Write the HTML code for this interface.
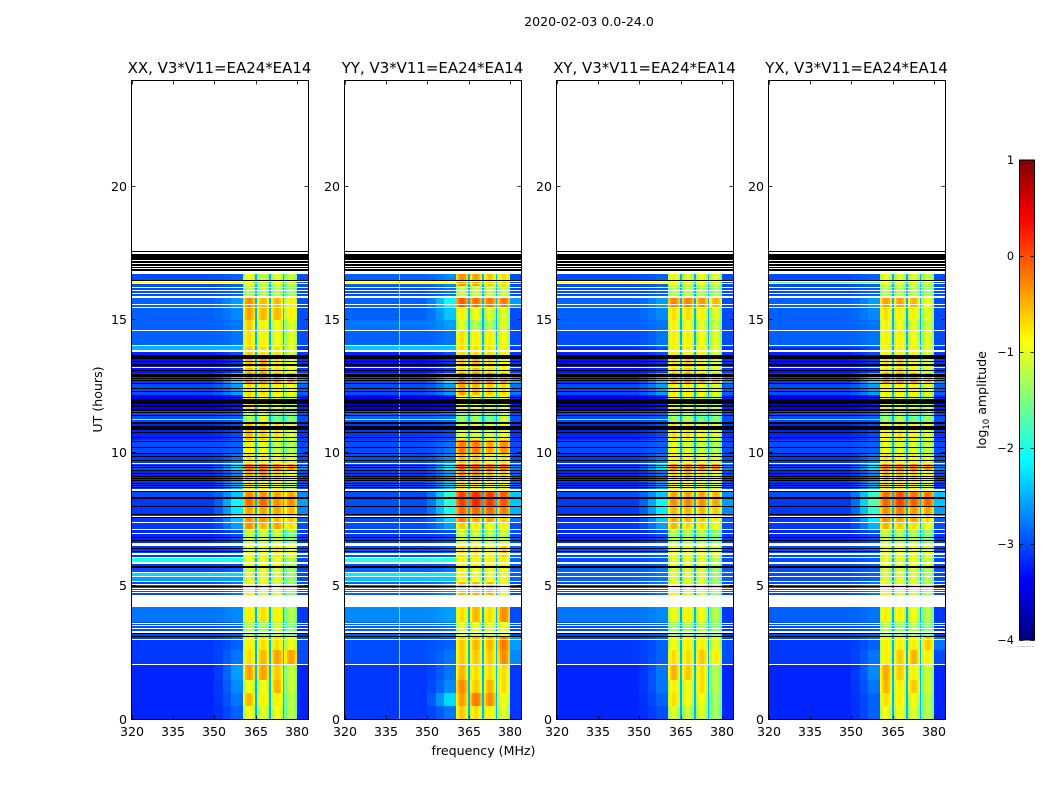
<!DOCTYPE html>
<html>
<head>
<meta charset="utf-8">
<title>Amplitude waterfall chart</title>
<style>
html,body{margin:0;padding:0;background:#fff;}
#figure{display:block;width:1050px;height:800px;}
text{font-family:"DejaVu Sans","Liberation Sans",sans-serif;fill:#000;}
</style>
</head>
<body>
<svg id="figure" xmlns="http://www.w3.org/2000/svg" width="1050" height="800" viewBox="0 0 1050 800">
  <rect x="0" y="0" width="1050" height="800" fill="#fff"/>
  <text x="589" y="26" font-size="12.6" text-anchor="middle">2020-02-03 0.0-24.0</text>
  <text x="102" y="399.5" font-size="12.6" text-anchor="middle" transform="rotate(-90 102 399.5)">UT (hours)</text>
  <text x="483.5" y="755" font-size="12.6" text-anchor="middle">frequency (MHz)</text>
  <g id="panels"></g>
  <g id="colorbar"></g>
  <text x="986" y="400" font-size="12.6" text-anchor="middle" transform="rotate(-90 986 400)">log<tspan font-size="8.5" dy="3">10</tspan><tspan dy="-3"> amplitude</tspan></text>
</svg>
<script>
// ---------- chart data ----------
const panelTitles = ["XX, V3*V11=EA24*EA14","YY, V3*V11=EA24*EA14","XY, V3*V11=EA24*EA14","YX, V3*V11=EA24*EA14"];
const xTickValues = [320,335,350,365,380];
const yTickValues = [0,5,10,15,20];
const colorbarTickValues = [-4,-3,-2,-1,0,1];
const colorbarTickLabels = ["\u22124","\u22123","\u22122","\u22121","0","1"];

// Time bands, hours (edges of the rows below)
const timeEdges = [0,0.5,1,1.5,2.05,2.6,3.1,3.65,4.22,4.67,5.2,5.7,6.05,6.5,7.1,7.4,7.65,8,8.35,8.65,9,9.35,9.6,10,10.5,11.1,11.6,12.2,12.6,13,13.6,14,14.6,15,15.5,15.9,16.3,16.73];

// log10 amplitude per time band: [320-350, 350-360, sub-band 1, 2, 3, 4, 380-384]
const ampXX = [
[-3.2,-2.9,-.9,-1,-.9,-1.2,-3.2],[-3.2,-2.8,-.5,-.8,-.8,-1.2,-3.2],[-3.2,-2.7,-.9,-.9,-.5,-1.1,-3.2],[-3.2,-2.6,-.4,-.4,-.6,-1.1,-3.2],
[-3.1,-2.8,-.7,-.5,-.4,-.4,-3],[-3.1,-2.9,-.8,-.7,-.7,-.9,-3],[-3,-2.9,-1.2,-1.3,-1.1,-1.4,-3.1],[-2.8,-2.7,-.8,-.7,-.8,-1.2,-3.1],
[-2.8,-2.7,-.8,-.7,-.8,-1.2,-3.1],[-3,-2.8,-.8,-1,-1,-1.4,-3],[-3,-2.9,-1,-.9,-1,-1.3,-3],[-3.1,-3,-.9,-.9,-.9,-1.2,-3],
[-3.1,-3,-.9,-.9,-.7,-.9,-3],[-3.2,-3,-1.1,-1.1,-1.1,-1.4,-3.1],[-3.1,-2.6,-.3,-.5,-.4,-.7,-3],[-3.1,-2.4,-.3,-.3,-.5,-.6,-2.9],
[-3.1,-2.2,-.4,-.4,-.4,-.5,-2.7],[-3.1,-2.1,-.15,-.1,-.3,-.3,-2.6],[-3,-2.4,-.3,-.3,-.4,-.4,-2.7],[-3.1,-2.5,-.7,-.8,-.8,-1.1,-3],
[-3.2,-2.7,-.4,-.3,-.6,-.9,-3],[-3,-2.3,-.1,-.1,-.2,-.3,-2.7],[-3.1,-2.8,-.7,-.8,-.9,-1,-3],[-3,-2.9,-.8,-.9,-1.1,-1.2,-3],
[-3.2,-3,-.5,-.6,-.7,-1,-3.1],[-3,-2.9,-1.2,-1,-1.5,-1.4,-3],[-3.4,-3.2,-.7,-.8,-.9,-1.1,-3.2],[-3,-2.6,-.7,-.7,-.8,-.9,-2.9],
[-3.1,-2.3,-.2,-.2,-.3,-.4,-2.6],[-3.3,-3.1,-.5,-.4,-.7,-.9,-3.1],[-3.2,-3,-.6,-.7,-.7,-1,-3.1],[-2.9,-2.8,-.7,-.8,-.9,-1,-3],
[-2.9,-2.8,-.6,-.8,-.9,-1,-3],[-2.9,-2.7,-.4,-.5,-.5,-.8,-3],[-2.9,-2.6,-.3,-.5,-.5,-.8,-3],[-3,-2.9,-1.2,-1.2,-1.2,-1.3,-3],
[-3,-2.9,-.9,-1.1,-1,-1.1,-3]];
const ampYY = [
[-3.1,-2.8,-.6,-.7,-.8,-1,-3.1],[-3.1,-2.3,-.4,-.2,-.3,-.9,-3.1],[-3.1,-2.7,-.3,-.6,-.5,-.7,-3.1],[-3.1,-2.8,-.5,-.7,-.7,-.7,-3.1],
[-3,-2.8,-.6,-.6,-.6,-.3,-2.7],[-3,-2.9,-.6,-.5,-.5,-.2,-2.6],[-2.9,-2.8,-1,-1,-1,-.9,-3],[-2.7,-2.6,-.7,-.5,-.7,-.3,-3],
[-2.7,-2.6,-.7,-.5,-.7,-.3,-3],[-2.9,-2.7,-.5,-.5,-.5,-.9,-3],[-2.9,-2.8,-.8,-.9,-.9,-.9,-2.9],[-3,-2.9,-.8,-.8,-.8,-.8,-2.9],
[-3,-2.9,-.7,-.7,-.8,-.6,-2.9],[-3.1,-3,-1.1,-1.1,-1.2,-1.1,-3],[-3,-2.6,-.6,-.8,-.9,-.8,-3],[-3,-2.3,-.2,-.4,-.4,-.6,-2.8],
[-3,-2,-.1,-.1,-.1,-.2,-2.5],[-3,-1.9,.1,.25,.15,0,-2.4],[-3,-1.9,.05,.2,.1,-.05,-2.4],[-3,-2.4,-.7,-.7,-.8,-.8,-2.9],
[-3.1,-2.6,-.3,-.3,-.5,-.6,-2.9],[-3,-2.2,-.05,0,-.1,-.1,-2.7],[-3,-2.7,-.5,-.6,-.8,-.7,-3],[-3,-2.8,-.2,-.2,-.4,-.3,-3],
[-3.1,-3,-1,-1,-1,-.9,-3.1],[-2.9,-2.8,-1.3,-1.3,-1.5,-1.1,-3],[-3.4,-3.3,-.8,-.9,-1,-.9,-3.2],[-3,-2.6,-.4,-.5,-.6,-.7,-2.8],
[-3,-2.2,-.1,-.2,-.2,-.3,-2.5],[-3.3,-3.1,-.6,-.5,-.7,-.8,-3.1],[-3.2,-3,-.7,-.7,-.7,-.8,-3.1],[-2.9,-2.8,-.7,-.8,-.8,-.9,-3],
[-2.8,-2.6,-1,-1.2,-1.2,-1,-3],[-2.9,-2.4,-.8,-.9,-1,-1,-3],[-2.9,-2.1,-.05,-.15,-.2,-.2,-2.6],[-3,-2.8,-1.1,-1.1,-1.1,-1.1,-3],
[-2.9,-2.7,-.3,-.4,-.6,-.7,-3]];
const ampXY = [
[-3.2,-3,-1,-1.1,-1,-1.3,-3.2],[-3.2,-2.9,-.7,-.9,-.9,-1.3,-3.2],[-3.2,-2.8,-.8,-.9,-.7,-1.2,-3.2],[-3.2,-2.8,-.5,-.6,-.7,-1.2,-3.2],
[-3.1,-2.9,-.7,-.7,-.6,-.8,-3],[-3.1,-2.9,-.9,-.8,-.8,-1,-3],[-3,-2.9,-1.3,-1.3,-1.2,-1.4,-3.1],[-2.8,-2.7,-.9,-.8,-.9,-1.2,-3.1],
[-2.8,-2.7,-.9,-.8,-.9,-1.2,-3.1],[-3,-2.8,-.8,-1,-1,-1.3,-3],[-2.9,-2.8,-1,-1,-1,-1.3,-2.9],[-3,-2.9,-1,-1,-1,-1.2,-3],
[-3,-2.9,-.9,-.9,-.9,-1,-3],[-3.2,-3,-1.2,-1.2,-1.2,-1.4,-3.1],[-3.1,-2.6,-.5,-.7,-.7,-.9,-3],[-3.1,-2.4,-.4,-.5,-.6,-.8,-2.9],
[-3.1,-2.2,-.5,-.5,-.5,-.6,-2.7],[-3.1,-2.1,-.3,-.25,-.3,-.4,-2.6],[-3,-2.4,-.4,-.4,-.4,-.5,-2.7],[-3.1,-2.6,-.8,-.8,-.9,-1,-3],
[-3.2,-2.8,-.6,-.5,-.7,-.9,-3],[-3,-2.3,-.25,-.25,-.25,-.3,-2.7],[-3.1,-2.8,-.8,-.8,-.9,-1,-3],[-3,-2.9,-.9,-1,-1.1,-1.2,-3],
[-3.2,-3,-.7,-.7,-.8,-1,-3.1],[-3,-2.9,-1.3,-1.2,-1.5,-1.4,-3],[-3.4,-3.2,-.8,-.9,-1,-1.1,-3.2],[-3,-2.6,-.8,-.8,-.9,-1,-2.9],
[-3.1,-2.4,-.3,-.3,-.35,-.5,-2.6],[-3.3,-3.1,-.7,-.6,-.8,-1,-3.1],[-3.2,-3,-.8,-.8,-.8,-1,-3.1],[-3,-2.8,-.8,-.8,-.9,-1,-3],
[-2.9,-2.8,-.8,-.9,-1,-1.1,-3],[-2.9,-2.7,-.7,-.7,-.8,-1,-3],[-2.9,-2.6,-.25,-.25,-.35,-.5,-3],[-3,-2.9,-1.2,-1.2,-1.2,-1.3,-3],
[-3,-2.9,-.8,-1,-.9,-1,-3]];
const ampYX = [
[-3.2,-2.9,-.9,-.9,-1,-1.2,-3.2],[-3.2,-2.9,-.7,-.8,-.9,-1.2,-3.2],[-3.2,-2.8,-.5,-.8,-.6,-1.1,-3.2],[-3.2,-2.7,-.45,-.6,-.8,-1.1,-3.2],
[-3.1,-2.8,-.8,-.6,-.5,-.8,-3],[-3.1,-2.9,-.8,-.8,-.8,-.6,-2.8],[-3,-2.9,-1.2,-1.3,-1.2,-1.4,-3.1],[-2.9,-2.8,-.8,-.8,-.9,-1.2,-3.1],
[-2.9,-2.8,-.8,-.8,-.9,-1.2,-3.1],[-3,-2.8,-.8,-1,-1,-1.2,-3],[-3,-2.9,-1,-1,-1,-1.2,-3],[-3,-2.9,-.9,-1,-.9,-1.1,-3],
[-3,-2.9,-.9,-.9,-.9,-1,-3],[-3.2,-3,-1.1,-1.2,-1.2,-1.4,-3.1],[-3.1,-2.5,-.5,-.6,-.7,-.9,-3],[-3.1,-2.2,-.3,-.4,-.4,-.7,-2.9],
[-3.1,-1.9,-.3,-.2,-.35,-.4,-2.6],[-3.1,-1.7,-.1,.1,-.05,-.1,-2.4],[-3,-1.9,-.15,0,-.15,-.2,-2.4],[-3.1,-2.5,-.7,-.7,-.8,-1,-3],
[-3.2,-2.7,-.5,-.5,-.6,-.8,-3],[-3,-2.3,-.2,-.2,-.2,-.3,-2.7],[-3.1,-2.8,-.7,-.8,-.8,-1,-3],[-3,-2.9,-.9,-1,-1,-1.1,-3],
[-3.2,-3,-.8,-.7,-.8,-1,-3.1],[-3,-2.9,-1.3,-1.2,-1.5,-1.3,-3],[-3.4,-3.2,-.8,-.9,-1,-1.1,-3.2],[-3,-2.6,-.8,-.8,-.8,-1,-2.9],
[-3.1,-2.3,-.25,-.25,-.3,-.5,-2.6],[-3.3,-3.1,-.7,-.6,-.8,-1,-3.1],[-3.2,-3,-.8,-.8,-.8,-1,-3.1],[-2.9,-2.8,-.8,-.8,-.9,-1,-3],
[-2.9,-2.8,-.8,-.9,-1,-1.1,-3],[-2.9,-2.7,-.7,-.8,-.8,-1,-3],[-2.9,-2.6,-.4,-.4,-.5,-.9,-3],[-3,-2.9,-1.2,-1.2,-1.2,-1.3,-3],
[-3,-2.9,-.9,-1,-1,-1.1,-3]];
const panelAmps = [ampXX,ampYY,ampXY,ampYX];

// Frequency zones (MHz) and correlator sub-band response
const farBand = [320,350];
const nearBand = [350,353,356,360.3];
const nearWeights = [0.2,0.55,1];
const subBands = [[360.3,364.7],[365.3,369.7],[370.3,374.7],[375.3,380]];
const subBandOffsets = [-0.4,-0.12,0,0,-0.12,-0.35];
const rightBand = [380,384];
const notchLevel = -2.5;

// Fully flagged rows (hours): blank = no data, black = zeroed data
const blankRows = [[16.42,16.47],[16.34,16.39],[16.21,16.25],[16.11,16.15],[15.97,16.02],[15.82,15.9],[15.56,15.6],[15.46,15.49],[14.58,14.62],[14.02,14.06],[13.81,13.87],[13.21,13.24],[9.59,9.63],[8.6,8.66],[7.61,7.65],[7.39,7.43],[7.1,7.14],[6.96,7],[6.51,6.64],[6.19,6.25],[6.05,6.09],[5.85,5.9],[5.49,5.53],[5.34,5.38],[5.15,5.19],[5.04,5.09],[4.91,4.95],[4.82,4.86],[4.74,4.78],[4.22,4.67],[3.6,3.63],[3.5,3.54],[3.4,3.43],[3.26,3.31],[2.98,3.02],[2.05,2.08]];
const blackRows = [[17.55,17.61],[17.25,17.49],[17.16,17.21],[17.04,17.1],[16.95,17.01],[16.86,16.91],[16.47,16.5],[13.55,13.68],[13.45,13.48],[13.33,13.36],[13.28,13.31],[13.1,13.13],[12.87,12.96],[12.8,12.83],[12.72,12.75],[12.6,12.63],[12.42,12.45],[12.32,12.35],[12.1,12.13],[12.02,12.05],[11.86,11.99],[11.72,11.8],[11.65,11.68],[11.59,11.62],[11.52,11.55],[11.41,11.44],[11.16,11.19],[11.09,11.12],[10.87,11.04],[10.78,10.81],[10.57,10.6],[10.42,10.45],[10.2,10.23],[9.97,10],[9.85,9.88],[9.72,9.75],[9.53,9.56],[9.45,9.48],[9.35,9.38],[9.22,9.25],[9.12,9.15],[9.03,9.06],[8.95,8.98],[8.85,8.88],[8.72,8.75],[8.79,8.82],[8.57,8.6],[8.29,8.34],[7.98,8.01],[7.67,7.7],[7.57,7.6],[6.84,6.87],[6.72,6.75],[6.4,6.43],[6.3,6.33],[5.7,5.77],[4.97,5],[3.21,3.24],[3.08,3.13]];
const brightRowsXX = [[16.39,16.42,-0.9],[13.88,14.02,-2.5],[11.25,11.29,-1.3],[5.9,6.05,-2],[5.39,5.49,-2.3],[5.2,5.34,-2.6]];
const brightRowsYY = [[16.39,16.42,-0.9],[13.88,14.02,-2.4],[11.25,11.29,-1.3],[5.9,6.05,-1.9],[5.39,5.49,-2.2],[5.2,5.34,-2.4]];
const brightRowsXY = [[16.39,16.42,-0.9],[11.25,11.29,-1.5]];
const brightRowsYX = [[16.39,16.42,-1.6],[11.25,11.29,-1.8]];
const panelBrightRows = [brightRowsXX,brightRowsYY,brightRowsXY,brightRowsYX];
const rfiChannels = [[],[339.8],[],[]];
const rfiLevel = -2;

// ---------- axes ----------
const NS = "http://www.w3.org/2000/svg";
const panelLefts = [131.5,344.5,556.5,768.5];
const panelWidth = 177;
const plotTop = 80.5, plotBottom = 719.5;
const xScale = (mhz, p) => panelLefts[p] + (mhz - 320) * panelWidth / 64;
const yScale = h => plotBottom - h * (plotBottom - plotTop) / 24;
const barTop = 160, barBottom = 640, barLeft = 1019.5, barRight = 1034.5;
const barScale = v => barBottom - (v + 4) * (barBottom - barTop) / 5;

function jet(v){
  const t = Math.min(1, Math.max(0, (v + 4) / 5));
  const c = k => Math.round(255 * Math.min(1, Math.max(0, 1.5 - Math.abs(4 * t - k))));
  return "rgb(" + c(3) + "," + c(2) + "," + c(1) + ")";
}
function shape(parent, tag, attrs){
  const el = document.createElementNS(NS, tag);
  for (const k in attrs) el.setAttribute(k, attrs[k]);
  parent.appendChild(el);
  return el;
}
function cell(parent, p, f0, f1, h0, h1, fill){
  const x0 = Math.round(xScale(f0, p)), x1 = Math.round(xScale(f1, p));
  const y0 = Math.round(yScale(h1)), y1 = Math.round(yScale(h0));
  const r = shape(parent, "rect", {x:x0, y:y0, width:Math.max(1, x1 - x0), height:Math.max(1, y1 - y0), fill:fill, "shape-rendering":"crispEdges"});
  
  
  return r;
}

const panelsGroup = document.getElementById("panels");
panelTitles.forEach((title, p) => {
  const g = shape(panelsGroup, "g", {});
  
  
  const amps = panelAmps[p];

  const heat = shape(g, "g", {});
  
  
  amps.forEach((row, i) => {
    const h0 = timeEdges[i], h1 = timeEdges[i + 1];
    cell(heat, p, farBand[0], farBand[1], h0, h1, jet(row[0]));
    nearWeights.forEach((w, n) => {
      cell(heat, p, nearBand[n], nearBand[n + 1], h0, h1, jet(row[0] + (row[1] - row[0]) * w));
    });
    subBands.forEach((band, s) => {
      const step = (band[1] - band[0]) / subBandOffsets.length;
      subBandOffsets.forEach((off, k) => {
        cell(heat, p, band[0] + k * step, band[0] + (k + 1) * step, h0, h1, jet(row[2 + s] + off));
      });
      if (s < subBands.length - 1) {
        cell(heat, p, band[1], subBands[s + 1][0], h0, h1, jet(notchLevel));
      }
    });
    cell(heat, p, rightBand[0], rightBand[1], h0, h1, jet(row[6]));
  });
  panelBrightRows[p].forEach(r => {
    cell(heat, p, 320, 360.3, r[0], r[1], jet(r[2]));
  });
  rfiChannels[p].forEach(mhz => {
    cell(heat, p, mhz, mhz + 0.35, 0, timeEdges[timeEdges.length - 1], jet(rfiLevel));
  });
  blackRows.forEach(r => {
    cell(heat, p, 320, 384, r[0], r[1], "#000");
  });
  blankRows.forEach(r => {
    cell(heat, p, 320, 384, r[0], r[1], "#fff");
  });

  const frame = shape(g, "rect", {x:panelLefts[p], y:plotTop, width:panelWidth, height:plotBottom - plotTop, fill:"none", stroke:"#000", "stroke-width":1});
  
  

  const t = shape(g, "text", {x:panelLefts[p] + panelWidth / 2 - 0.5, y:73, "font-size":"14.95", "text-anchor":"middle"});
  t.textContent = title;
  
  

  xTickValues.forEach(v => {
    const x = Math.round(xScale(v, p)) + 0.5;
    [[plotBottom, plotBottom - 4],[plotTop, plotTop + 4]].forEach(e => {
      const tick = shape(g, "line", {x1:x, x2:x, y1:e[0], y2:e[1], stroke:"#000", "stroke-width":0.8});
      
      
    });
    const lab = shape(g, "text", {x:x - 0.5, y:736, "font-size":"12.6", "text-anchor":"middle"});
    lab.textContent = v;
    
    
  });
  yTickValues.forEach(v => {
    const y = Math.round(yScale(v)) - 0.5;
    [[panelLefts[p], panelLefts[p] + 4],[panelLefts[p] + panelWidth, panelLefts[p] + panelWidth - 4]].forEach(e => {
      const tick = shape(g, "line", {x1:e[0], x2:e[1], y1:y, y2:y, stroke:"#000", "stroke-width":0.8});
      
      
    });
    const lab = shape(g, "text", {x:panelLefts[p] - 4.5, y:y + 4.5, "font-size":"12.6", "text-anchor":"end"});
    lab.textContent = v;
    
    
  });
});

// ---------- colorbar ----------
const cb = document.getElementById("colorbar");
for (let y = barTop; y < barBottom; y += 2) {
  const v = -4 + (barBottom - y - 1) * 5 / (barBottom - barTop);
  const s = shape(cb, "rect", {x:barLeft, y:y, width:barRight - barLeft, height:2, fill:jet(v), "shape-rendering":"crispEdges"});
  
  
}
const cbFrame = shape(cb, "rect", {x:barLeft, y:barTop, width:barRight - barLeft, height:barBottom - barTop, fill:"none", stroke:"#000", "stroke-width":1});


colorbarTickValues.forEach((v, i) => {
  const y = Math.round(barScale(v)) + 0.5;
  [[barLeft, barLeft + 4],[barRight, barRight - 4]].forEach(e => {
    const tick = shape(cb, "line", {x1:e[0], x2:e[1], y1:y, y2:y, stroke:"#000", "stroke-width":0.8});
    
    
  });
  const lab = shape(cb, "text", {x:1014, y:y + 3.5, "font-size":"11.3", "text-anchor":"end"});
  lab.textContent = colorbarTickLabels[i];
  
  
});
const cbDots = shape(cb, "line", {x1:1017.5, x2:1035, y1:646.5, y2:646.5, stroke:"#888", "stroke-width":1, "stroke-dasharray":"1 2"});


</script>
</body>
</html>
